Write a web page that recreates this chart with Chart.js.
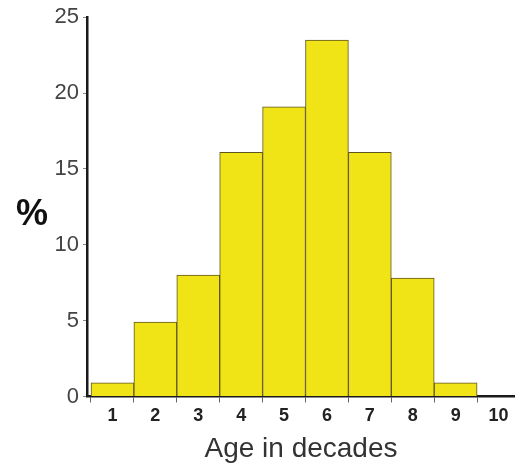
<!DOCTYPE html>
<html>
<head>
<meta charset="utf-8">
<script src="https://cdn.jsdelivr.net/npm/chart.js@4/dist/chart.umd.min.js"></script>
<style>
  html, body { margin: 0; padding: 0; background: #fff; }
  #wrap { width: 515px; height: 471px; position: relative; }
</style>
</head>
<body>
<div id="wrap"><canvas id="c" width="515" height="471"></canvas></div>
<script>
const decades = [1, 2, 3, 4, 5, 6, 7, 8, 9, 10];
const percents = [0.9, 4.9, 8.0, 16.1, 19.1, 23.5, 16.1, 7.8, 0.9, 0];
const yTicks = [0, 5, 10, 15, 20, 25];
const xTitle = 'Age in decades';
const yTitle = '%';

const FONT = "'Liberation Sans', Arial, Helvetica, sans-serif";

const yTitlePlugin = {
  id: 'yTitle',
  afterDraw(chart) {
    const ctx = chart.ctx;
    const area = chart.chartArea;
    ctx.save();
    ctx.font = 'bold 36px ' + FONT;
    ctx.fillStyle = '#111';
    ctx.textAlign = 'center';
    ctx.textBaseline = 'middle';
    ctx.fillText(yTitle, 32, (area.top + area.bottom) / 2 + 8);
    ctx.restore();
  }
};

new Chart(document.getElementById('c'), {
  type: 'bar',
  data: {
    datasets: [{
      data: decades.map((d, i) => ({ x: d, y: percents[i] })),
      backgroundColor: '#F1E416',
      borderColor: '#5f5420',
      borderWidth: 1,
      barPercentage: 1,
      categoryPercentage: 1
    }]
  },
  options: {
    responsive: false,
    animation: false,
    devicePixelRatio: 1,
    layout: { padding: { top: 14, left: 0, right: 0, bottom: 0 } },
    plugins: { legend: { display: false }, tooltip: { enabled: false } },
    scales: {
      x: {
        type: 'linear',
        offset: false,
        min: 0.4068,
        max: 10.3835,
        afterBuildTicks: s => { s.ticks = decades.map(v => ({ value: v })); },
        afterFit: s => { s.height = 74.5; s.paddingLeft = 0; s.paddingRight = 0; },
        border: { display: true, color: '#1a1a1a', width: 2.5 },
        grid: { display: true, offset: true, drawOnChartArea: false, drawTicks: true, tickLength: 6, color: '#666' },
        ticks: {
          autoSkip: false,
          maxRotation: 0,
          padding: 3,
          color: '#222',
          font: { family: FONT, size: 18, weight: 'bold' },
          callback: v => String(v)
        },
        title: {
          display: true,
          text: xTitle,
          color: '#333',
          font: { family: FONT, size: 28 },
          padding: { top: 0, bottom: 5 }
        }
      },
      y: {
        min: 0,
        max: 25,
        afterBuildTicks: s => { s.ticks = yTicks.map(v => ({ value: v })); },
        afterFit: s => { s.width = 87; },
        border: { display: true, color: '#1a1a1a', width: 2.5 },
        grid: { display: true, drawOnChartArea: false, drawTicks: true, tickLength: 4, color: '#888' },
        ticks: {
          padding: 4,
          color: '#444',
          font: { family: FONT, size: 22 }
        }
      }
    }
  },
  plugins: [yTitlePlugin]
});
</script>
</body>
</html>
